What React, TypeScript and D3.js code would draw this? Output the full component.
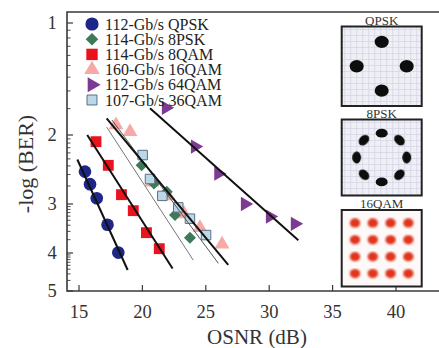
import { useEffect, useRef } from 'react';
import * as d3 from 'd3';

// values: OSNR (dB) and -log(BER)
const qpskOsnr = [15.47, 15.87, 16.4, 17.25, 18.1];
const qpskLogBer = [2.48, 2.67, 2.9, 3.39, 3.99];
const psk8Osnr = [19.94, 20.91, 21.92, 22.57, 23.75];
const psk8LogBer = [2.39, 2.66, 2.79, 3.2, 3.66];
const qam8Osnr = [16.34, 17.31, 18.35, 19.28, 20.32, 21.33];
const qam8LogBer = [2.08, 2.39, 2.84, 3.12, 3.55, 3.9];
const qam16Osnr = [17.92, 19.02, 20.76, 22.02, 23.28, 24.54, 26.28];
const qam16LogBer = [1.88, 1.96, 2.64, 2.86, 3.18, 3.45, 3.8];
const qam64Osnr = [21.86, 24.15, 25.99, 28.09, 30.06, 32.03];
const qam64LogBer = [1.69, 2.14, 2.51, 3.0, 3.23, 3.37];
const qam36Osnr = [20.02, 20.6, 21.57, 22.83, 23.75, 25.02];
const qam36LogBer = [2.25, 2.59, 2.86, 3.06, 3.27, 3.6];

// fitted lines, [start, end]
const fitOsnr = [[14.87, 18.84], [15.65, 22.38], [17.18, 24.01], [17.6, 25.99], [17.18, 26.77], [20.6, 32.3]];
const fitLogBer = [[2.31, 4.42], [2.0, 4.38], [1.904, 4.17], [1.823, 4.25], [1.804, 4.29], [1.696, 3.71]];

const seriesNames = ['112-Gb/s QPSK', '114-Gb/s 8PSK', '114-Gb/s 8QAM', '160-Gb/s 16QAM', '112-Gb/s 64QAM', '107-Gb/s 36QAM'];
const osnrTicks = [15, 20, 25, 30, 35, 40];
const logBerTicks = [1, 2, 3, 4, 5];

// constellation insets (I, Q)
const qpskPoints = [[0, 1], [-1, 0], [1, 0], [0, -1]];
const psk8Points = [[0, 1], [0.71, 0.71], [1, 0], [0.71, -0.71], [0, -1], [-0.71, -0.71], [-1, 0], [-0.71, 0.71]];
const qam16Levels = [-3, -1, 1, 3];

function App() {
  const ref = useRef<SVGSVGElement>(null);

  useEffect(() => {
    draw();
    // eslint-disable-next-line
  }, []);

  function draw() {
    const svg = d3.select(ref.current);
    svg.selectAll('*').remove();

    const frame = { left: 67, right: 439, top: 12, bottom: 291 };
    const font = 'Liberation Serif';
    const axisColor = '#3a3a3a';

    const x = d3.scaleLinear().domain([15, 40]).range([79, 396]);
    const y = d3.scaleLog().domain([1, 2, 3, 4, 5]).range([23, 135, 204, 253, 291]);

    const defs = svg.append('defs');
    defs.append('filter').attr('id', 'soft').append('feGaussianBlur').attr('stdDeviation', 0.6);
    defs.append('filter').attr('id', 'softer').append('feGaussianBlur').attr('stdDeviation', 0.9);

    // frame
    svg.append('path')
      .attr('d', `M${frame.right},${frame.top}H${frame.left}V${frame.bottom}H${frame.right}`)
      .attr('fill', 'none')
      .attr('stroke', axisColor)
      .attr('stroke-width', 1.6);

    // x ticks
    svg.append('g').selectAll('line').data(osnrTicks).enter().append('line')
      .attr('x1', d => x(d)).attr('x2', d => x(d))
      .attr('y1', frame.bottom).attr('y2', frame.bottom - 6)
      .attr('stroke', axisColor).attr('stroke-width', 1.2);
    svg.append('g').selectAll('text').data(osnrTicks).enter().append('text')
      .attr('x', d => x(d)).attr('y', 318)
      .attr('text-anchor', 'middle')
      .style('font', `18.5px "${font}"`).attr('fill', '#333')
      .text(d => d);
    svg.append('text')
      .attr('x', 257).attr('y', 344)
      .attr('text-anchor', 'middle')
      .style('font', `21px "${font}"`).attr('fill', '#333')
      .text('OSNR (dB)');

    // y ticks, minor ticks at BER = k x 10^-n
    const minor = d3.range(1, 5).flatMap(n => d3.range(2, 10).map(k => n + 1 - Math.log10(k)));
    svg.append('g').selectAll('line').data(minor).enter().append('line')
      .attr('x1', frame.left).attr('x2', frame.left + 3.5)
      .attr('y1', d => y(d)).attr('y2', d => y(d))
      .attr('stroke', axisColor).attr('stroke-width', 0.9);
    svg.append('g').selectAll('line').data(logBerTicks).enter().append('line')
      .attr('x1', frame.left).attr('x2', frame.left + 6)
      .attr('y1', d => y(d)).attr('y2', d => y(d))
      .attr('stroke', axisColor).attr('stroke-width', 1.2);
    svg.append('g').selectAll('text').data(logBerTicks).enter().append('text')
      .attr('x', 52).attr('y', d => y(d) + 6)
      .attr('text-anchor', 'middle')
      .style('font', `18.5px "${font}"`).attr('fill', '#333')
      .text(d => d);
    svg.append('text')
      .attr('transform', 'translate(33,164) rotate(-90)')
      .attr('text-anchor', 'middle')
      .style('font', `22px "${font}"`).attr('fill', '#333')
      .text('-log (BER)');

    // series
    const styles = [
      { osnr: qpskOsnr, v: qpskLogBer, type: d3.symbolCircle, size: 125, rot: 0, fill: '#1e2688', stroke: 'none' },
      { osnr: psk8Osnr, v: psk8LogBer, type: d3.symbolSquare, size: 72, rot: 45, fill: '#3e7a58', stroke: 'none' },
      { osnr: qam8Osnr, v: qam8LogBer, type: d3.symbolSquare, size: 118, rot: 0, fill: '#e8131c', stroke: 'none' },
      { osnr: qam16Osnr, v: qam16LogBer, type: d3.symbolTriangle, size: 95, rot: 0, fill: '#f6a9a6', stroke: 'none' },
      { osnr: qam64Osnr, v: qam64LogBer, type: d3.symbolTriangle, size: 88, rot: 90, fill: '#7d3a92', stroke: 'none' },
      { osnr: qam36Osnr, v: qam36LogBer, type: d3.symbolSquare, size: 90, rot: 0, fill: '#bcd7e6', stroke: '#5b6f86' },
    ];
    const drawOrder = [0, 2, 3, 1, 5, 4];

    drawOrder.forEach(i => {
      const s = styles[i];
      svg.append('g').selectAll('path').data(s.osnr).enter().append('path')
        .attr('d', d3.symbol().type(s.type).size(s.size))
        .attr('transform', (d, j) => `translate(${x(d)},${y(s.v[j])}) rotate(${s.rot})`)
        .attr('fill', s.fill)
        .attr('stroke', s.stroke)
        .attr('stroke-width', 1);
    });

    // fit lines
    const lineStyles = [
      { color: '#111', width: 2 },
      { color: '#111', width: 2 },
      { color: '#777', width: 1 },
      { color: '#555', width: 1 },
      { color: '#111', width: 2 },
      { color: '#111', width: 2 },
    ];
    fitOsnr.forEach((xs, i) => {
      const pts = xs.map((d, j) => [x(d), y(fitLogBer[i][j])] as [number, number]);
      svg.append('path')
        .attr('d', d3.line()(pts))
        .attr('stroke', lineStyles[i].color)
        .attr('stroke-width', lineStyles[i].width)
        .attr('fill', 'none');
    });

    // legend
    const legend = svg.append('g');
    seriesNames.forEach((name, i) => {
      const s = styles[i];
      const ly = 24 + i * 15.2;
      legend.append('path')
        .attr('d', d3.symbol().type(s.type).size(s.size * 1.1)())
        .attr('transform', `translate(92,${ly}) rotate(${s.rot})`)
        .attr('fill', s.fill)
        .attr('stroke', s.stroke);
      legend.append('text')
        .attr('x', 105).attr('y', ly + 5.5)
        .style('font', `16px "${font}"`).attr('fill', '#222')
        .text(name);
    });

    // constellation insets
    const insets = [
      { label: 'QPSK', top: 26.5, bottom: 106, grid: true },
      { label: '8PSK', top: 119.5, bottom: 195.5, grid: true },
      { label: '16QAM', top: 210, bottom: 286.5, grid: false },
    ];
    const boxLeft = 341.7;
    const boxRight = 421.7;

    insets.forEach((b, i) => {
      const g = svg.append('g');
      g.append('rect')
        .attr('x', boxLeft).attr('y', b.top)
        .attr('width', boxRight - boxLeft).attr('height', b.bottom - b.top)
        .attr('fill', b.grid ? '#efeff6' : '#fdf9f8');
      if (b.grid) {
        const gx = d3.range(boxLeft + 3, boxRight, 6);
        const gy = d3.range(b.top + 3, b.bottom, 6);
        g.selectAll('.gx').data(gx).enter().append('line')
          .attr('x1', d => d).attr('x2', d => d).attr('y1', b.top).attr('y2', b.bottom)
          .attr('stroke', '#d2d2e4').attr('stroke-width', 0.7);
        g.selectAll('.gy').data(gy).enter().append('line')
          .attr('y1', d => d).attr('y2', d => d).attr('x1', boxLeft).attr('x2', boxRight)
          .attr('stroke', '#d2d2e4').attr('stroke-width', 0.7);
      }
      const cx = (boxLeft + boxRight) / 2;
      const cy = (b.top + b.bottom) / 2;
      if (i === 0 || i === 1) {
        const pts = i === 0 ? qpskPoints : psk8Points;
        const sx = d3.scaleLinear().domain([-1.6, 1.6]).range([boxLeft, boxRight]);
        const sy = d3.scaleLinear().domain([-1.6, 1.6]).range([cy + 39, cy - 39]);
        g.selectAll('ellipse').data(pts).enter().append('ellipse')
          .attr('cx', d => sx(d[0])).attr('cy', d => sy(d[1]))
          .attr('rx', i === 0 ? 7 : 6).attr('ry', i === 0 ? 6.2 : 4.4)
          .attr('transform', d => i === 0 ? null : `rotate(${-Math.atan2(d[1], d[0]) * 180 / Math.PI + 90},${sx(d[0])},${sy(d[1])})`)
          .attr('fill', '#111')
          .attr('filter', 'url(#soft)');
      } else {
        const sx = d3.scaleLinear().domain([-4.5, 4.5]).range([boxLeft, boxRight]);
        const sy = d3.scaleLinear().domain([-4.5, 4.5]).range([cy + 38, cy - 38]);
        g.selectAll('ellipse').data(d3.cross(qam16Levels, qam16Levels)).enter().append('ellipse')
          .attr('cx', d => sx(d[0])).attr('cy', d => sy(d[1]))
          .attr('rx', 5.2).attr('ry', 4.6)
          .attr('fill', '#e0341e')
          .attr('filter', 'url(#softer)');
      }
      g.append('rect')
        .attr('x', boxLeft).attr('y', b.top)
        .attr('width', boxRight - boxLeft).attr('height', b.bottom - b.top)
        .attr('fill', 'none').attr('stroke', '#222').attr('stroke-width', 2);
      g.append('text')
        .attr('x', cx).attr('y', b.top - 2)
        .attr('text-anchor', 'middle')
        .style('font', `13px "${font}"`).attr('fill', '#333')
        .text(b.label);
    });
  }

  return (
    <svg ref={ref} width={439} height={348}
      style={{ position: 'absolute', left: 0, top: 0, background: '#fff' }}>
    </svg>
  );
}

export default App;
